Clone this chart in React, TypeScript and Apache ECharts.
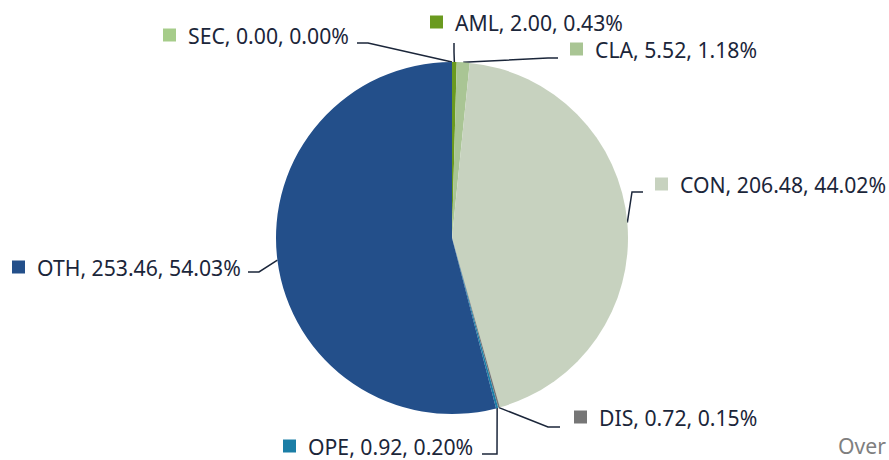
import React, { useEffect, useRef } from "react";
import * as echarts from "echarts";

const names = ["AML", "CLA", "CON", "DIS", "OPE", "OTH", "SEC"];
const values = [2.0, 5.52, 206.48, 0.72, 0.92, 253.46, 0.0];
const colors = ["#6a9a1f", "#a9c594", "#c7d2bf", "#767676", "#1b7ea6", "#234f8a", "#a6cc8a"];

// label placement (left x, middle y) and label-line elbow/end points
const labelPos = [[430, 22], [570, 49], [655, 184], [574, 417], [283, 446], [12, 267], [163, 35]];
const lineElbow = [[454, 52], [548, 58], [632, 192], [548, 427], [497, 454], [259, 272], [368, 43]];
const lineEnd = [[454, 43], [558, 58], [643, 192], [560, 427], [482, 454], [248, 272], [357, 43]];

const textColor = "#1b263a";
const fontFamily = "'Noto Sans', sans-serif";

export default function App() {
  const ref = useRef<HTMLDivElement>(null);
  useEffect(() => {
    if (!ref.current) return;
    const chart = echarts.init(ref.current, null, { renderer: "svg" });
    const total = values.reduce((a, b) => a + b, 0);
    const rich: any = {
      t: { fontSize: 21.2, lineHeight: 21, color: textColor, fontFamily, padding: [0, 0, 0, 12] },
    };
    colors.forEach((c, i) => {
      rich["m" + i] = { width: 13, height: 13, backgroundColor: c };
    });
    chart.setOption({
      animation: false,
      backgroundColor: "#ffffff",
      graphic: [
        {
          type: "text",
          left: 838,
          top: 435,
          style: { text: "Over", fontSize: 21.2, lineHeight: 21, fill: "#7f7f7f", fontFamily },
        },
      ],
      series: [
        {
          type: "pie",
          center: [452, 238],
          radius: 176,
          startAngle: 90,
          clockwise: true,
          avoidLabelOverlap: false,
          itemStyle: { borderWidth: 0 },
          emphasis: { disabled: true },
          label: {
            show: true,
            position: "outside",
            rich,
            formatter: (p: any) => {
              const pct = total ? (values[p.dataIndex] / total) * 100 : 0;
              return `{m${p.dataIndex}|}{t|${p.name}, ${values[p.dataIndex].toFixed(2)}, ${pct.toFixed(2)}%}`;
            },
          },
          labelLine: {
            show: true,
            length: 10,
            length2: 10,
            lineStyle: { color: textColor, width: 1.5 },
          },
          labelLayout: (params: any) => {
            const i = params.dataIndex;
            const p0 = params.labelLinePoints && params.labelLinePoints[0];
            const res: any = {
              x: labelPos[i][0],
              y: labelPos[i][1],
              align: "left",
              verticalAlign: "middle",
            };
            if (p0) res.labelLinePoints = [p0, lineElbow[i], lineEnd[i]];
            return res;
          },
          data: names.map((n, i) => ({
            name: n,
            value: values[i],
            itemStyle: { color: colors[i] },
          })),
        },
      ],
    });
    return () => chart.dispose();
  }, []);
  return (
    <div
      ref={ref}
      style={{ position: "fixed", left: 0, top: 0, width: 889, height: 460, background: "#fff" }}
    />
  );
}
